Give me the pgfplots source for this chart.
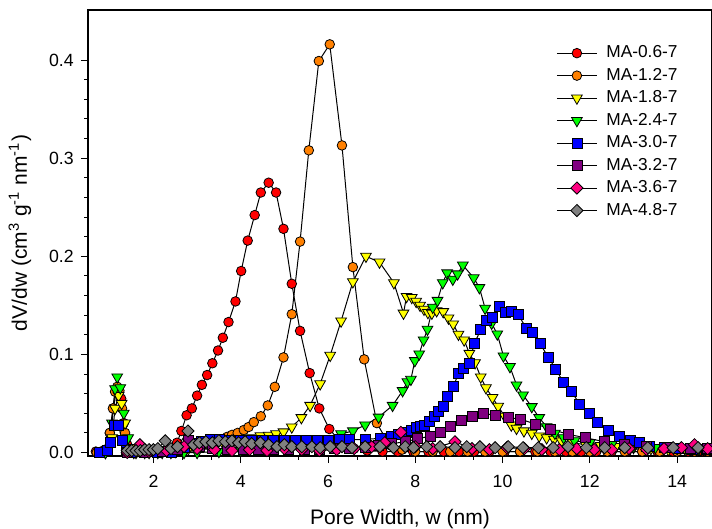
\documentclass[border=0pt]{standalone}
\usepackage{fontspec}
\setmainfont{Liberation Sans}
\usepackage{pgfplots}
\pgfplotsset{compat=1.18}
\definecolor{cRed}{RGB}{255,0,0}
\definecolor{cOrange}{RGB}{255,128,0}
\definecolor{cYellow}{RGB}{255,255,0}
\definecolor{cGreen}{RGB}{0,255,0}
\definecolor{cBlue}{RGB}{0,0,255}
\definecolor{cPurple}{RGB}{128,0,128}
\definecolor{cPink}{RGB}{255,0,128}
\definecolor{cGrey}{RGB}{128,128,128}
\pgfplotsset{
  circ/.style={black, line width=0.5pt, mark=*, mark size=2.4pt, mark options={solid, draw=black, line width=0.4pt, fill=#1}},
  tri/.style={black, line width=0.5pt, mark=triangle*, mark size=3.1pt, mark options={solid, rotate=180, draw=black, line width=0.4pt, fill=#1}},
  sq/.style={black, line width=0.5pt, mark=square*, mark size=2.5pt, mark options={solid, draw=black, line width=0.4pt, fill=#1}},
  dia/.style={black, line width=0.5pt, mark=square*, mark size=2.15pt, mark options={solid, rotate=45, draw=black, line width=0.4pt, fill=#1}},
}
\begin{document}
\begin{tikzpicture}
\begin{axis}[name=ax, scale only axis, width=312pt, height=223pt,
  xmin=0.5, xmax=14.8, ymin=-0.0035, ymax=0.451,
  clip=false,
  xtick={2,4,6,8,10,12,14}, ytick={0,0.1,0.2,0.3,0.4},
  minor x tick num=2, minor y tick num=4,
  tick align=outside, tick pos=left,
  major tick length=3.6pt, minor tick length=1.8pt,
  every tick/.style={black, line width=0.5pt},
  axis line style={line width=0.6pt},
  ticklabel style={font=\fontsize{8.85}{10}\selectfont},
  xticklabel style={yshift=-2.5pt},
  /pgf/number format/assume math mode=true,
  yticklabel style={/pgf/number format/.cd, fixed, fixed zerofill, precision=1},
  xlabel={Pore Width, w (nm)},
  ylabel={dV/dw (cm\textsuperscript{3} g\textsuperscript{-1} nm\textsuperscript{-1})},
  label style={font=\fontsize{10.5}{12}\selectfont},
  xlabel style={at={(rel axis cs:0.5,0)}, anchor=base, yshift=-34.5pt},
  ylabel style={at={(rel axis cs:0,0.5)}, anchor=center, yshift=34pt},
  legend style={draw=none, fill=none, inner sep=0pt, at={(rel axis cs:0.75,0.930)}, anchor=north west,
    font=\fontsize{8.65}{10}\selectfont, row sep=-0.3pt},
  legend cell align=left,
  legend image code/.code={\draw[mark repeat=2,mark phase=2] plot coordinates {(0pt,0pt)(10pt,0pt)(20pt,0pt)}; \path (22.5pt,0pt);},
]
\addplot[circ=cRed] table {
0.68 0.001
0.85 0.002
1.00 0.020
1.08 0.045
1.15 0.062
1.20 0.065
1.26 0.055
1.32 0.030
1.40 0.008
1.50 0.001
1.70 0.000
1.90 0.000
2.10 0.000
2.30 0.001
2.45 0.004
2.54 0.010
2.64 0.022
2.76 0.038
2.88 0.045
3.00 0.058
3.11 0.069
3.23 0.079
3.35 0.091
3.48 0.104
3.59 0.117
3.72 0.133
3.88 0.154
4.01 0.185
4.16 0.216
4.32 0.242
4.46 0.265
4.64 0.275
4.81 0.265
4.98 0.228
5.17 0.172
5.36 0.124
5.58 0.081
5.80 0.045
6.03 0.024
6.30 0.010
6.60 0.004
6.90 0.002
7.25 0.001
7.60 0.001
7.95 0.001
8.30 0.001
8.65 0.001
9.00 0.001
9.35 0.001
9.70 0.001
10.05 0.001
10.40 0.001
10.75 0.001
11.10 0.001
11.45 0.001
11.80 0.001
12.15 0.001
12.50 0.001
12.85 0.001
13.20 0.001
13.55 0.001
13.90 0.001
14.25 0.001
14.60 0.001
};
\addlegendentry{MA-0.6-7}
\addplot[circ=cOrange] table {
0.70 0.000
0.90 0.003
1.00 0.020
1.07 0.045
1.12 0.062
1.17 0.067
1.22 0.063
1.28 0.045
1.35 0.020
1.45 0.003
1.60 0.000
1.85 0.000
2.10 0.000
2.35 0.001
2.60 0.003
2.80 0.005
3.00 0.007
3.20 0.009
3.40 0.011
3.55 0.013
3.69 0.016
3.80 0.018
3.93 0.020
4.07 0.023
4.18 0.026
4.30 0.031
4.46 0.037
4.62 0.048
4.78 0.067
4.98 0.097
5.17 0.141
5.36 0.215
5.56 0.308
5.79 0.399
6.04 0.416
6.32 0.313
6.57 0.189
6.83 0.095
7.12 0.030
7.40 0.008
7.70 0.003
8.00 0.001
8.40 0.001
8.80 0.001
9.20 0.001
9.60 0.001
10.00 0.001
10.40 0.001
10.80 0.001
11.20 0.001
11.60 0.001
12.00 0.001
12.40 0.001
12.80 0.001
13.20 0.001
13.60 0.001
14.00 0.001
14.40 0.001
14.70 0.001
};
\addlegendentry{MA-1.2-7}
\addplot[tri=cYellow] table {
0.90 0.000
1.05 0.015
1.12 0.045
1.20 0.058
1.27 0.050
1.35 0.030
1.45 0.005
1.60 0.000
1.90 0.000
2.20 0.000
2.50 0.001
2.80 0.004
3.00 0.005
3.30 0.007
3.60 0.009
3.90 0.012
4.20 0.015
4.45 0.017
4.64 0.0175
4.81 0.019
4.98 0.021
5.17 0.026
5.39 0.0355
5.59 0.048
5.82 0.070
6.05 0.099
6.30 0.134
6.57 0.174
6.87 0.200
7.18 0.194
7.51 0.173
7.73 0.142
7.80 0.159
7.92 0.158
8.02 0.154
8.11 0.150
8.20 0.146
8.29 0.1426
8.38 0.142
8.49 0.1445
8.64 0.1435
8.76 0.137
8.87 0.131
8.99 0.1205
9.12 0.1147
9.24 0.101
9.37 0.0915
9.50 0.077
9.62 0.066
9.77 0.056
9.90 0.047
10.05 0.037
10.20 0.028
10.32 0.0246
10.49 0.022
10.67 0.0196
10.84 0.0168
11.01 0.015
11.18 0.0134
11.35 0.0117
11.60 0.010
11.90 0.008
12.25 0.007
12.60 0.006
13.00 0.005
13.40 0.004
13.80 0.003
14.20 0.003
14.60 0.003
};
\addlegendentry{MA-1.8-7}
\addplot[tri=cGreen] table {
0.90 0.000
1.05 0.030
1.12 0.065
1.17 0.077
1.24 0.066
1.32 0.040
1.42 0.015
1.55 0.000
1.80 0.000
2.10 0.000
2.40 0.000
2.70 0.000
3.00 0.000
3.50 0.001
4.00 0.002
4.50 0.003
5.00 0.005
5.50 0.008
5.90 0.013
6.30 0.019
6.57 0.022
6.85 0.028
7.16 0.036
7.48 0.048
7.71 0.063
7.82 0.072
7.90 0.0746
7.99 0.0936
8.09 0.1004
8.19 0.1147
8.28 0.1256
8.40 0.148
8.51 0.155
8.63 0.173
8.73 0.183
8.86 0.1766
8.97 0.182
9.09 0.191
9.34 0.178
9.47 0.168
9.60 0.147
9.75 0.1317
9.88 0.1208
10.02 0.0984
10.17 0.0875
10.32 0.0688
10.47 0.0586
10.67 0.0467
10.84 0.0355
11.01 0.0263
11.20 0.0196
11.40 0.015
11.65 0.012
12.00 0.010
12.50 0.008
13.00 0.006
13.50 0.005
14.00 0.004
14.50 0.004
};
\addlegendentry{MA-2.4-7}
\addplot[sq=cBlue] table {
0.75 0.000
0.95 0.002
1.02 0.010
1.10 0.028
1.20 0.028
1.28 0.012
1.38 0.002
1.50 0.000
1.80 0.000
2.10 0.000
2.40 0.000
2.70 0.005
2.90 0.009
3.10 0.011
3.30 0.013
3.50 0.013
3.75 0.012
4.00 0.012
4.25 0.012
4.50 0.012
4.75 0.012
5.00 0.012
5.25 0.012
5.50 0.012
5.75 0.012
6.00 0.012
6.25 0.013
6.50 0.013
6.85 0.0134
7.19 0.0145
7.45 0.0168
7.62 0.019
7.80 0.021
7.92 0.023
8.02 0.0257
8.11 0.027
8.21 0.028
8.32 0.0314
8.43 0.0365
8.53 0.0416
8.64 0.0467
8.74 0.0576
8.87 0.067
8.99 0.0807
9.10 0.0858
9.24 0.0909
9.35 0.111
9.50 0.125
9.62 0.135
9.77 0.1375
9.92 0.149
10.07 0.1425
10.21 0.144
10.36 0.1405
10.54 0.127
10.69 0.122
10.86 0.111
11.05 0.097
11.22 0.085
11.39 0.072
11.58 0.062
11.77 0.0494
11.98 0.040
12.18 0.0304
12.42 0.023
12.67 0.0168
12.92 0.0127
13.13 0.0104
13.37 0.0066
13.72 0.0053
14.02 0.0043
14.36 0.0033
14.67 0.0033
};
\addlegendentry{MA-3.0-7}
\addplot[sq=cPurple] table {
1.40 0.000
1.80 0.000
2.20 0.001
2.55 0.003
2.80 0.012
3.05 0.006
3.35 0.004
3.70 0.003
4.05 0.003
4.40 0.003
4.75 0.003
5.10 0.003
5.45 0.003
5.80 0.003
6.15 0.004
6.50 0.004
6.85 0.005
7.15 0.007
7.45 0.009
7.77 0.011
8.05 0.014
8.34 0.0168
8.57 0.021
8.81 0.027
9.06 0.033
9.32 0.0372
9.56 0.040
9.83 0.038
10.13 0.0357
10.42 0.0338
10.76 0.029
11.10 0.024
11.50 0.0186
11.91 0.015
12.34 0.011
12.80 0.008
13.30 0.006
13.80 0.005
14.30 0.004
14.70 0.004
};
\addlegendentry{MA-3.2-7}
\addplot[dia=cPink] table {
1.40 0.000
1.69 0.008
1.90 0.001
2.30 0.002
2.70 0.006
3.00 0.004
3.40 0.003
3.80 0.002
4.20 0.003
4.60 0.002
5.00 0.004
5.40 0.003
5.80 0.002
6.20 0.003
6.60 0.004
7.00 0.006
7.30 0.010
7.67 0.0206
8.00 0.006
8.40 0.004
8.91 0.011
9.30 0.004
9.70 0.003
10.10 0.005
10.50 0.004
10.90 0.003
11.30 0.003
11.70 0.004
12.10 0.003
12.50 0.003
12.90 0.004
13.30 0.003
13.70 0.004
14.10 0.005
14.40 0.008
14.70 0.004
};
\addlegendentry{MA-3.6-7}
\addplot[dia=cGrey] table {
1.40 0.002
1.50 0.002
1.60 0.002
1.70 0.002
1.80 0.003
1.90 0.003
2.00 0.003
2.10 0.004
2.27 0.012
2.40 0.004
2.55 0.006
2.79 0.022
2.92 0.008
3.05 0.010
3.20 0.011
3.35 0.010
3.50 0.012
3.65 0.011
3.80 0.012
3.95 0.010
4.10 0.011
4.25 0.009
4.45 0.010
4.64 0.008
4.83 0.006
5.00 0.008
5.17 0.006
5.40 0.006
5.63 0.006
5.82 0.005
6.05 0.006
6.32 0.006
6.55 0.005
6.85 0.006
7.19 0.006
7.50 0.005
7.77 0.006
7.96 0.005
8.26 0.006
8.57 0.006
8.91 0.005
9.18 0.006
9.48 0.006
9.83 0.005
10.13 0.006
10.47 0.005
10.82 0.005
11.16 0.005
11.50 0.006
11.92 0.005
12.34 0.005
12.80 0.005
13.33 0.005
13.91 0.005
14.48 0.005
};
\addlegendentry{MA-4.8-7}
\end{axis}
\pgfresetboundingbox
\path[use as bounding box] ([xshift=-44pt,yshift=-36.5pt]ax.south west) rectangle ([yshift=5pt]ax.north east);
\end{tikzpicture}
\end{document}
